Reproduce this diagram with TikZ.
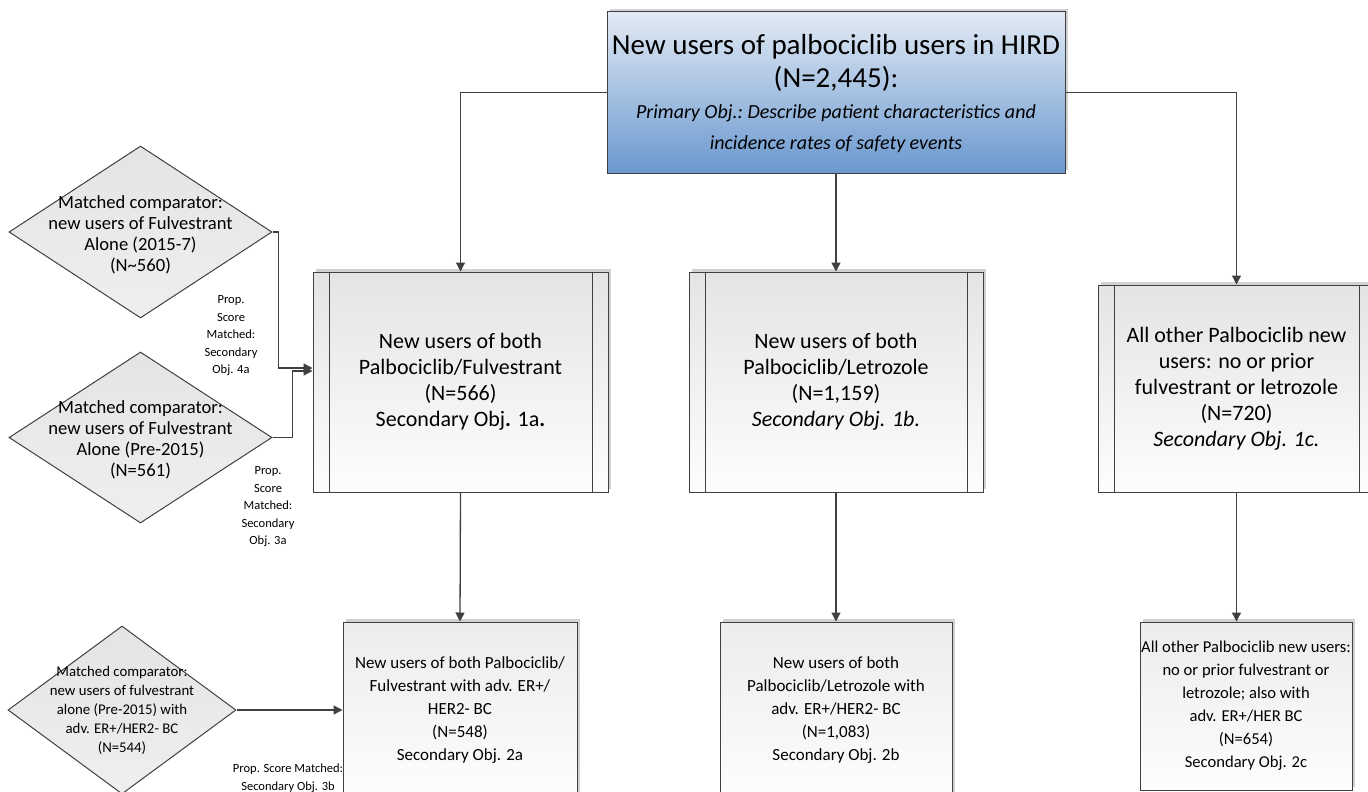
\documentclass[tikz,border=0pt]{standalone}
\usepackage{fontspec}
\setmainfont{Carlito}
\usetikzlibrary{shapes.geometric,arrows.meta,shadows}
\definecolor{lc}{HTML}{404040}
\definecolor{topA}{HTML}{E2EAF4}
\definecolor{topB}{HTML}{6A98CF}
\definecolor{boxA}{HTML}{E4E4E4}
\definecolor{boxB}{HTML}{FDFDFD}
\newcommand{\mytoptext}{{\fontsize{29}{33}\selectfont\spaceskip=.226em\xspaceskip=.226em New users of palbociclib users in HIRD\\(N=2,445):\par}%
  {\fontsize{20}{31}\selectfont\itshape\spaceskip=.226em\xspaceskip=.226em Primary Obj.: Describe patient characteristics and\\incidence rates of safety events\par}}
\tikzset{
  shad/.style={drop shadow={shadow xshift=3pt,shadow yshift=3pt,fill=gray!45,opacity=.8}},
  topbox/.style={draw=lc,line width=1pt,top color=topA,bottom color=topB,shad,inner sep=0pt,align=center},
  procbox/.style={draw=lc,line width=1pt,top color=boxA,bottom color=boxB,shad,inner sep=0pt,align=center,
     font=\fontsize{22}{26}\selectfont,
     path picture={\draw[lc,line width=1pt]([xshift=16pt]path picture bounding box.north west)--([xshift=16pt]path picture bounding box.south west);
                   \draw[lc,line width=1pt]([xshift=-16pt]path picture bounding box.north east)--([xshift=-16pt]path picture bounding box.south east);}},
  lowbox/.style={draw=lc,line width=1pt,top color=boxA!70,bottom color=boxB,shad,inner sep=0pt,align=center,
     font=\fontsize{17}{23}\selectfont},
  dia/.style={diamond,draw=lc,line width=1pt,top color=boxA,bottom color=boxA!60,inner sep=0pt},
  diatext/.style={align=center,font=\fontsize{18.6}{21}\selectfont},
  diatextS/.style={align=center,font=\fontsize{14.8}{19}\selectfont},
  toptext/.style={align=center,text width=640pt,inner sep=0pt},
  propl/.style={align=center,font=\fontsize{12.5}{17.5}\selectfont},
  conn/.style={draw=lc,line width=1.3pt},
  arr/.style={conn,-{Triangle[length=9pt,width=9pt]}}
}
\begin{document}
\begin{tikzpicture}[x=1pt,y=-1pt]
\clip (0,0) rectangle (1368,792);
\fill[white] (0,0) rectangle (1368,792);
% top box
\node[topbox,minimum width=458pt,minimum height=161pt,
  label={[toptext,yshift=-1pt]center:\mytoptext}] (top) at (836,92.5) {};
% middle row
\node[procbox,minimum width=295pt,minimum height=220pt] (b1) at (460.5,382)
 {New users of both\\Palbociclib/Fulvestrant\\(N=566)\\Secondary Obj\textbf{.} 1a\textbf{.}};
\node[procbox,minimum width=294pt,minimum height=220pt] (b2) at (836,382)
 {New users of both\\Palbociclib/Letrozole\\(N=1,159)\\\textit{Secondary Obj. 1b.}};
\node[procbox,minimum width=277pt,minimum height=207pt] (b3) at (1236.5,388.5)
 {All other Palbociclib new\\users: no or prior\\fulvestrant or letrozole\\(N=720)\\\textit{Secondary Obj. 1c.}};
% bottom row
\node[lowbox,minimum width=234pt,minimum height=176pt] (c1) at (460,710)
 {New users of both Palbociclib/\\Fulvestrant with adv. ER+/\\HER2- BC\\(N=548)\\Secondary Obj. 2a};
\node[lowbox,minimum width=232pt,minimum height=176pt] (c2) at (836,710)
 {New users of both\\Palbociclib/Letrozole with\\adv. ER+/HER2- BC\\(N=1,083)\\Secondary Obj. 2b};
\node[lowbox,minimum width=212pt,minimum height=168pt,font=\fontsize{16.6}{23}\selectfont] (c3) at (1246,706)
 {All other Palbociclib new users:\\no or prior fulvestrant or\\letrozole; also with\\adv. ER+/HER BC\\(N=654)\\Secondary Obj. 2c};
% diamonds
\node[dia,minimum width=263pt,minimum height=172pt,
  label={[diatext,yshift=-3pt]center:Matched comparator:\\new users of Fulvestrant\\Alone (2015-7)\\(N\textasciitilde560)}] (d1) at (140.5,232) {};
\node[dia,minimum width=263pt,minimum height=171pt,
  label={[diatext,yshift=-2pt]center:Matched comparator:\\new users of Fulvestrant\\Alone (Pre-2015)\\(N=561)}] (d2) at (140.5,437.5) {};
\node[dia,minimum width=228pt,minimum height=168pt,
  label={[diatextS]center:Matched comparator:\\new users of fulvestrant\\alone (Pre-2015) with\\adv. ER+/HER2- BC\\(N=544)}] (d3) at (122,710) {};
% labels
\node[propl] (p4a) at (231,336) {Prop.\\Score\\Matched:\\Secondary\\Obj. 4a};
\node[propl] (p3a) at (268,507) {Prop.\\Score\\Matched:\\Secondary\\Obj. 3a};
\node[propl] (p3b) at (288,778) {Prop. Score Matched:\\Secondary Obj. 3b};
% connectors
\draw[arr] (top.west) -| (b1.north);
\draw[arr] (top.east) -| (b3.north);
\draw[arr] (top.south) -- (b2.north);
\draw[arr] (b1.south) -- (c1.north);
\draw[arr] (b2.south) -- (c2.north);
\draw[arr] (b3.south) -- (c3.north -| b3.south);
\draw[arr] (d1.east) -- ++(6,0) |- ([yshift=14pt]b1.west);
\draw[arr] (d2.east) -- ++(20,0) |- ([yshift=11pt]b1.west);
\draw[arr] (d3.east) -- (d3.east -| c1.west);
\end{tikzpicture}
\end{document}
